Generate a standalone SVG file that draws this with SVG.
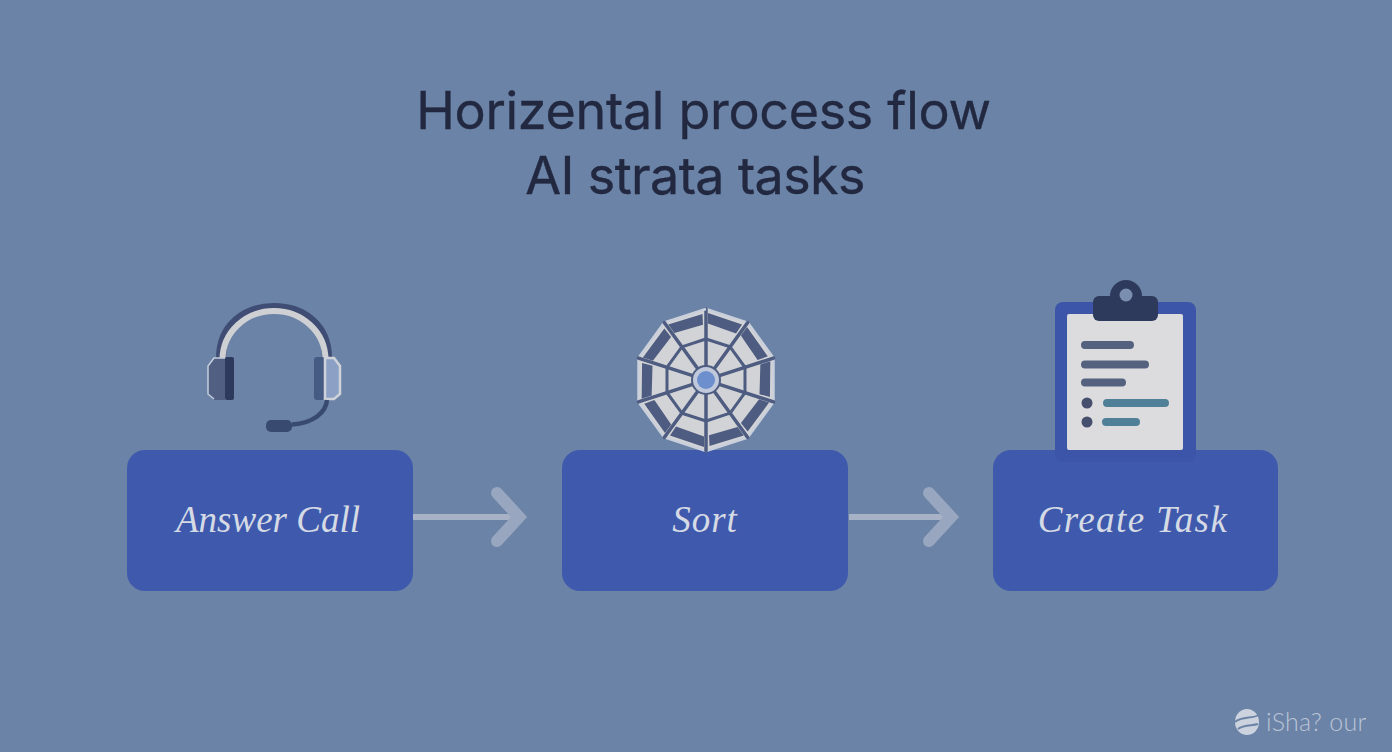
<svg xmlns="http://www.w3.org/2000/svg" width="1392" height="752" viewBox="0 0 1392 752">
<style>
.title{font-family:"Inter","Liberation Sans",sans-serif;font-size:52px;fill:#222840;text-anchor:middle;stroke:#222840;stroke-width:.35}
.label{font-family:"Liberation Serif",serif;font-style:italic;font-size:37px;fill:#d5dae5;text-anchor:middle}
.box{fill:#3f5aad}
.shaft{stroke:#a8b2c6;stroke-width:6;fill:none}
.head{stroke:#98a6bf;stroke-width:12;fill:none;stroke-linecap:round;stroke-linejoin:miter}
.ln{stroke-width:8;stroke-linecap:round;fill:none}
.web{fill:none;stroke:#4d5c80;stroke-linecap:round;stroke-linejoin:round}
</style>
<defs>
<g id="wedge">
<path d="M706 309L747.700 322.600" fill="none" stroke="#c9cfdb" stroke-width="2.500"/>
<path d="M708 313L742 324.500L736 333.500L708 323.500Z" fill="#4d5c80"/>
<path d="M706 309V366" class="web" stroke-width="3.500"/>
<path d="M706 339L730 346.800" class="web" stroke-width="3"/>
</g>
</defs>
<rect width="1392" height="752" fill="#6b83a6"/>
<g id="title">
<text class="title" x="703.500" y="129" letter-spacing="-0.3">Horizental process flow</text>
<text class="title" x="695" y="194" letter-spacing="-0.6">AI strata tasks</text>
</g>
<g id="connectors">
<path class="shaft" d="M413 517H512"/>
<path class="head" d="M497 493L519 517L497 541"/>
<path class="shaft" d="M849 517H944"/>
<path class="head" d="M929 493L951 517L929 541"/>
</g>
<g id="node-answer-call">
<rect class="box" x="127" y="450" width="286" height="141" rx="18"/>
<text class="label" x="268" y="532">Answer Call</text>
<path d="M221 358C221 326 245 308 274 308C303 308 327 326 327 358" fill="none" stroke="#3f4d74" stroke-width="10"/>
<path d="M222.500 360C222.500 332 246 311 274 311C302 311 325.500 332 325.500 360" fill="none" stroke="#cfd0d3" stroke-width="6"/>
<path d="M208 366L214 358H225V400H214L208 394Z" fill="#505f82"/>
<path d="M225 358H214L208 366V394L214 399" fill="none" stroke="#c5cedd" stroke-width="1.500"/>
<rect x="225" y="357" width="9" height="43" rx="2" fill="#2d3a5c"/>
<rect x="314" y="357" width="11" height="43" rx="3" fill="#465b84"/>
<path d="M325 358H334L340 366V394L334 399H325Z" fill="#8ba0c4" stroke="#cfd2d8" stroke-width="2.500"/>
<path d="M327 400C326 412 314 423 292 424.500" fill="none" stroke="#394a70" stroke-width="4.500"/>
<rect x="266" y="420" width="26" height="12" rx="5" fill="#394a70"/>
</g>
<g id="node-sort">
<rect class="box" x="562" y="450" width="286" height="141" rx="18"/>
<text class="label" x="705" y="532" letter-spacing="1">Sort</text>
<path d="M706 309L747.700 322.600L773.500 358.100V401.900L747.700 437.400L706 451L664.300 437.400L638.500 401.900V358.100L664.300 322.600Z" fill="#d2d3d6"/>
<use href="#wedge"/>
<use href="#wedge" transform="rotate(36 706 380)"/>
<use href="#wedge" transform="rotate(72 706 380)"/>
<use href="#wedge" transform="rotate(108 706 380)"/>
<use href="#wedge" transform="rotate(144 706 380)"/>
<use href="#wedge" transform="rotate(180 706 380)"/>
<use href="#wedge" transform="rotate(216 706 380)"/>
<use href="#wedge" transform="rotate(252 706 380)"/>
<use href="#wedge" transform="rotate(288 706 380)"/>
<use href="#wedge" transform="rotate(324 706 380)"/>
<circle cx="706" cy="380" r="14" fill="#c0c9dc" stroke="#4d5c80" stroke-width="2"/>
<circle cx="706" cy="380" r="9" fill="#6d8fce"/>
</g>
<g id="node-create-task">
<rect class="box" x="993" y="450" width="285" height="141" rx="18"/>
<text class="label" x="1133" y="532" letter-spacing="1.400">Create Task</text>
<rect x="1055" y="302" width="141" height="160" rx="8" fill="#3c55a8"/>
<rect x="1067" y="314" width="116" height="136" rx="2" fill="#dcdcdf"/>
<circle cx="1126" cy="296" r="16" fill="#2d3a5c"/>
<rect x="1093" y="296" width="65" height="25" rx="6" fill="#2d3a5c"/>
<circle cx="1126" cy="295" r="6.500" fill="#7a8fb0"/>
<path class="ln" stroke="#55627f" d="M1085 345H1130M1085 364.500H1145M1085 382.500H1122"/>
<path class="ln" stroke="#4f8098" d="M1107 403H1165M1106 422H1136"/>
<circle cx="1087" cy="403" r="5.500" fill="#474f6e"/>
<circle cx="1087" cy="422" r="5.500" fill="#474f6e"/>
</g>
<g id="watermark">
<ellipse cx="1247" cy="722" rx="12" ry="13" fill="#ccd3df"/>
<path d="M1235 722C1242 716 1252 719 1259 715M1238 729C1244 724 1252 726 1258 724" fill="none" stroke="#6b83a6" stroke-width="2"/>
<text x="1266" y="731" font-family="Lato,'Open Sans',sans-serif" font-weight="300" font-size="25" letter-spacing="0.3" fill="#b9c4d6">iSha? our</text>
</g>
</svg>
